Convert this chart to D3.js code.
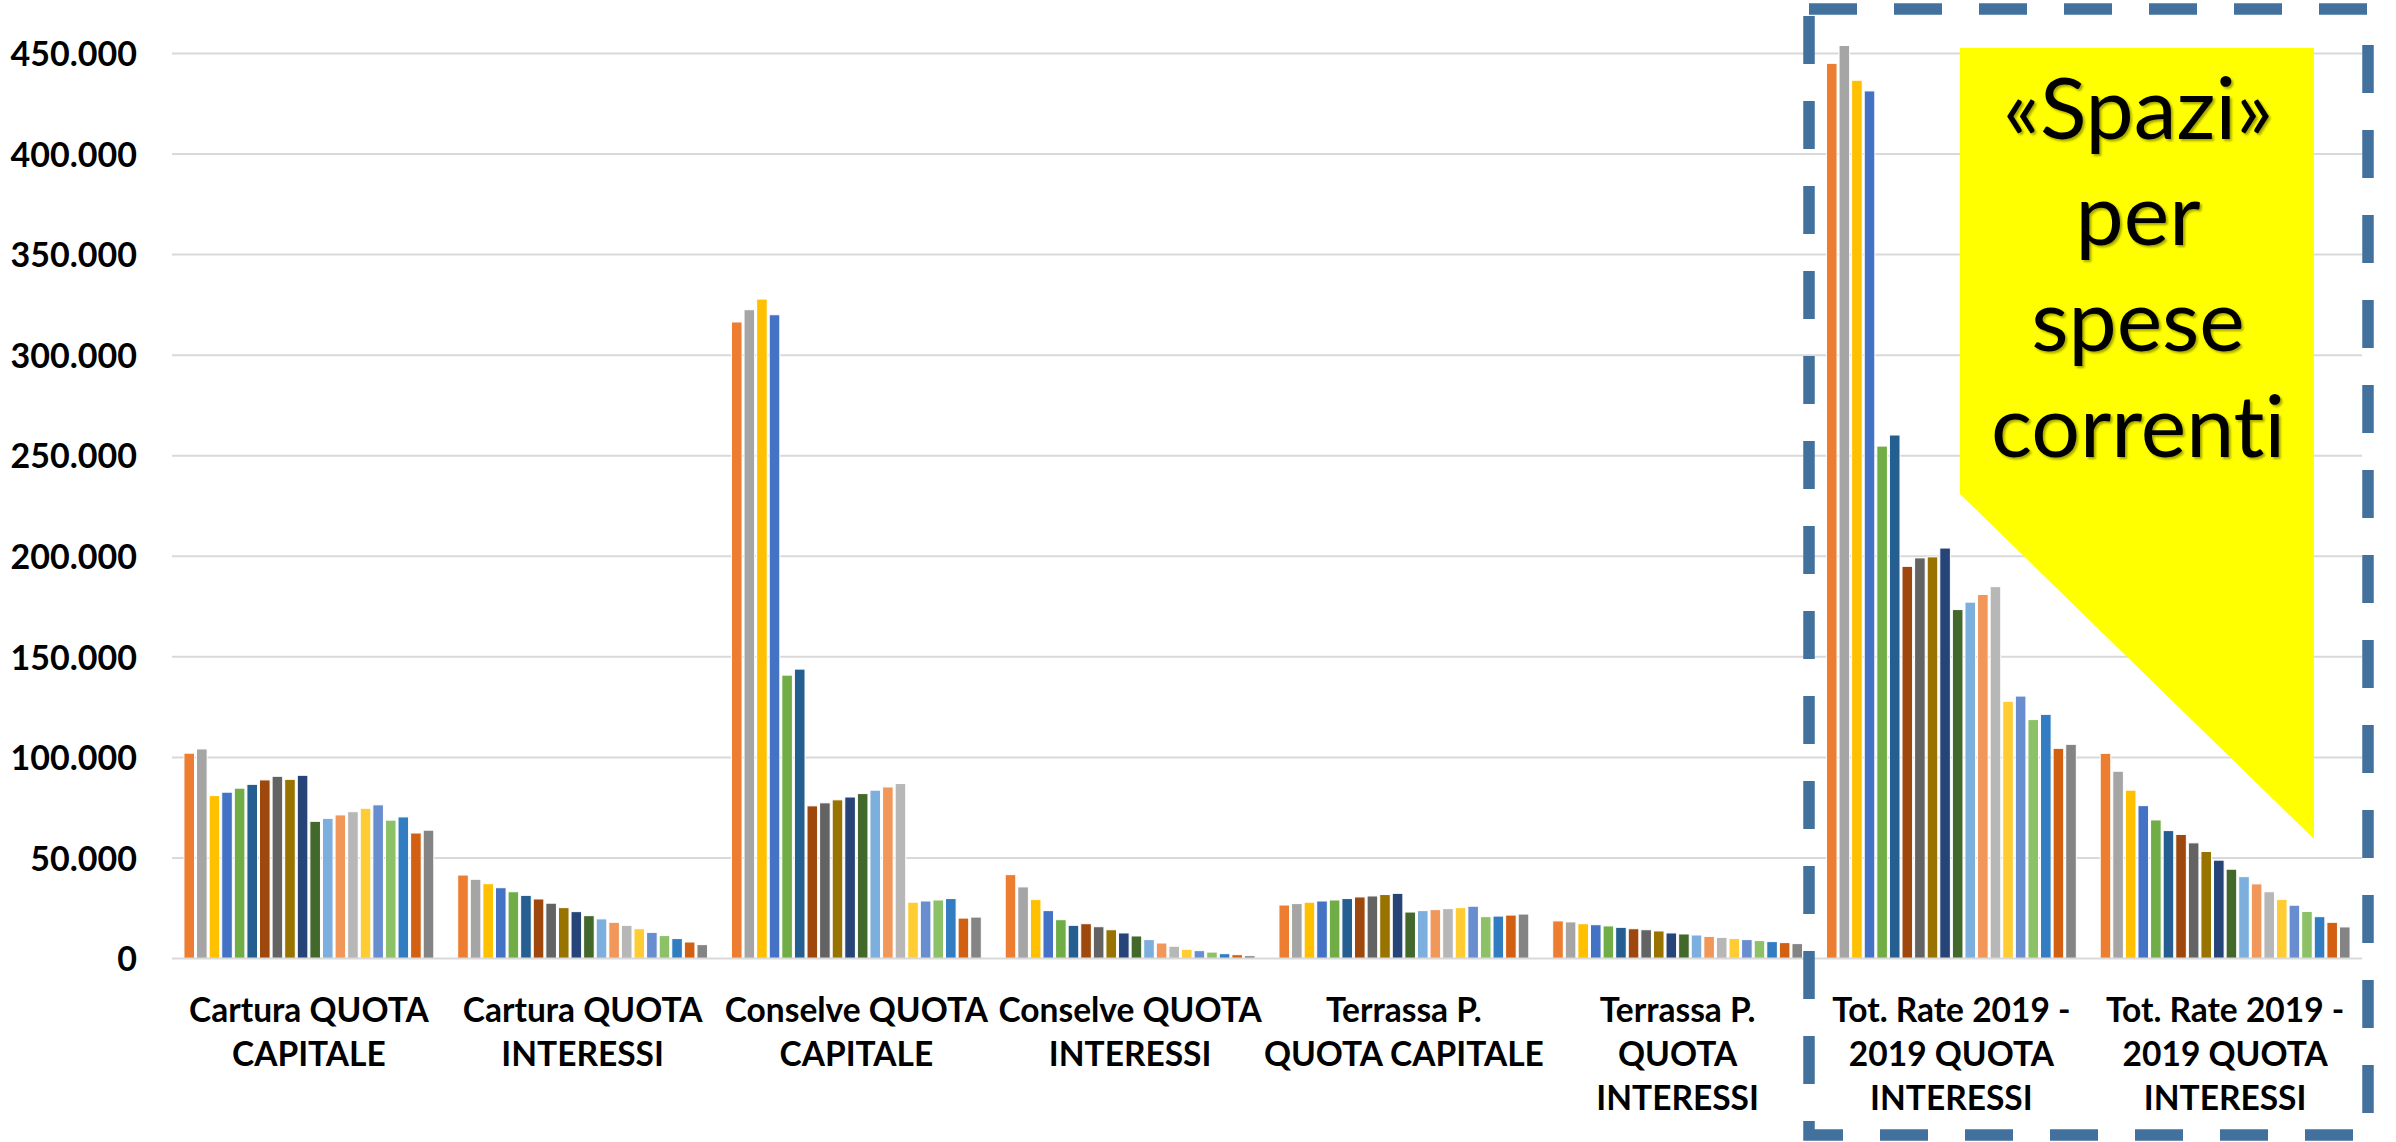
<!DOCTYPE html>
<html>
<head>
<meta charset="utf-8">
<script src="https://cdnjs.cloudflare.com/ajax/libs/d3/7.8.5/d3.min.js"></script>
<style>
  html, body { margin: 0; padding: 0; background: #ffffff; }
  svg { display: block; }
  text { font-variant-ligatures: none; font-feature-settings: "liga" 0, "clig" 0; }
</style>
</head>
<body>
<script>
// ---------------- DATA ----------------
const categories = [
  "Cartura QUOTA CAPITALE",
  "Cartura QUOTA INTERESSI",
  "Conselve QUOTA CAPITALE",
  "Conselve QUOTA INTERESSI",
  "Terrassa P. QUOTA CAPITALE",
  "Terrassa P. QUOTA INTERESSI",
  "Tot. Rate 2019 - 2019 QUOTA INTERESSI",
  "Tot. Rate 2019 - 2019 QUOTA INTERESSI"
];
const categoryLines = [
  ["Cartura QUOTA", "CAPITALE"],
  ["Cartura QUOTA", "INTERESSI"],
  ["Conselve QUOTA", "CAPITALE"],
  ["Conselve QUOTA", "INTERESSI"],
  ["Terrassa P.", "QUOTA CAPITALE"],
  ["Terrassa P.", "QUOTA", "INTERESSI"],
  ["Tot. Rate 2019 -", "2019 QUOTA", "INTERESSI"],
  ["Tot. Rate 2019 -", "2019 QUOTA", "INTERESSI"]
];
const seriesNames = [
  "Serie 1","Serie 2","Serie 3","Serie 4","Serie 5","Serie 6","Serie 7","Serie 8","Serie 9","Serie 10",
  "Serie 11","Serie 12","Serie 13","Serie 14","Serie 15","Serie 16","Serie 17","Serie 18","Serie 19","Serie 20"
];
const seriesColors = [
  "#ED7D31","#A5A5A5","#FFC000","#4472C4","#70AD47","#255E91","#9E480E","#636363","#997300","#264478",
  "#43682B","#7CAFDD","#F1975A","#B7B7B7","#FFCD33","#698ED0","#8CC168","#327DC2","#D26012","#848484"
];

const carturaCapitale   = [102100,104200,81000,82700,84700,86600,88800,90600,89100,91100,68200,69700,71400,73000,74700,76400,68800,70400,62400,63800];
const carturaInteressi  = [41500,39400,37200,35200,33200,31400,29600,27500,25300,23300,21300,19700,18000,16500,14800,13000,11400,9900,8200,6900];
const conselveCapitale  = [316500,322600,327900,320100,140900,143900,75900,77400,78900,80300,82000,83700,85300,87000,28000,28600,29100,29800,20100,20600];
const conselveInteressi = [41700,35600,29300,23800,19300,16500,17300,15800,14300,12700,11200,9400,7700,6100,4600,3900,3200,2400,1900,1400];
const terrassaCapitale  = [26600,27300,28000,28600,29100,29800,30600,31100,31800,32400,23100,23800,24300,24800,25300,26000,20800,21100,21600,22100];
const terrassaInteressi = [18700,18200,17300,16800,16200,15500,14800,14300,13700,12700,12200,11700,11000,10500,10000,9400,8900,8400,7900,7400];
const totCapitale       = [445100,454000,436700,431400,254800,260300,195000,199200,199700,204100,173500,177200,181000,184900,127900,130500,118800,121400,104500,106500];
const totInteressi      = [102000,93100,83700,76000,68900,63600,61700,57500,53200,48900,44400,40700,37100,33200,29400,26500,23400,20800,18000,15700];

const groupValues = [carturaCapitale, carturaInteressi, conselveCapitale, conselveInteressi,
                     terrassaCapitale, terrassaInteressi, totCapitale, totInteressi];

const yTicks = [0,50000,100000,150000,200000,250000,300000,350000,400000,450000];
const calloutLines = ["«Spazi»", "per", "spese", "correnti"];

// ---------------- LAYOUT ----------------
const W = 2396, H = 1142;
const plotLeft = 172, plotRight = 2362, yZero = 958.5, yTop = 53.5;

const svg = d3.select("body").append("svg")
  .attr("width", W).attr("height", H)
  .attr("viewBox", `0 0 ${W} ${H}`);

svg.append("rect").attr("width", W).attr("height", H).attr("fill", "#ffffff");

const defs = svg.append("defs");
const f = defs.append("filter").attr("id", "tshadow").attr("x", "-10%").attr("y", "-10%").attr("width", "130%").attr("height", "130%");
f.append("feDropShadow").attr("dx", 2).attr("dy", 2).attr("stdDeviation", 1)
  .attr("flood-color", "#000").attr("flood-opacity", 0.35);

const idx = d3.range(categories.length);
const x0 = d3.scaleBand().domain(idx).range([plotLeft, plotRight]).paddingInner(0.08).paddingOuter(0.04);
const x1 = d3.scaleBand().domain(seriesNames).range([0, x0.bandwidth()]).padding(0);
const y = d3.scaleLinear().domain([0, 450000]).range([yZero, yTop]);
const color = d3.scaleOrdinal().domain(seriesNames).range(seriesColors);

const fmt = d3.formatLocale({decimal: ",", thousands: ".", grouping: [3], currency: ["€", ""]}).format(",");

// gridlines
svg.append("g").selectAll("line").data(yTicks.filter(d => d > 0)).join("line")
  .attr("x1", plotLeft).attr("x2", plotRight)
  .attr("y1", d => y(d)).attr("y2", d => y(d))
  .attr("stroke", "#D9D9D9").attr("stroke-width", 2);

// y axis labels
const yAxis = d3.axisLeft(y).tickValues(yTicks).tickFormat(fmt).tickSize(0).tickPadding(0);
const yg = svg.append("g").attr("transform", `translate(137,0)`).call(yAxis);
yg.select(".domain").remove();
yg.selectAll("text")
  .attr("font-family", "Lato, 'Open Sans', sans-serif")
  .attr("font-weight", 700)
  .attr("font-size", 34)
  .attr("fill", "#000")
  .attr("dy", "0.36em");

// bars
const groups = svg.append("g").selectAll("g").data(idx).join("g")
  .attr("transform", i => `translate(${x0(i)},0)`);
groups.selectAll("rect")
  .data(i => groupValues[i].map((v, j) => ({key: seriesNames[j], value: v})))
  .join("rect")
  .attr("x", d => x1(d.key) + 1)
  .attr("width", x1.bandwidth() - 2)
  .attr("y", d => y(d.value))
  .attr("height", d => y(0) - y(d.value))
  .attr("fill", d => color(d.key))
  .attr("stroke", "#ffffff")
  .attr("stroke-width", 1);

// zero axis line
svg.append("line")
  .attr("x1", plotLeft).attr("x2", plotRight)
  .attr("y1", y(0)).attr("y2", y(0))
  .attr("stroke", "#D9D9D9").attr("stroke-width", 2);

// x axis labels
const xl = svg.append("g").selectAll("text").data(idx).join("text")
  .attr("x", i => x0(i) + x0.bandwidth() / 2)
  .attr("y", 1022)
  .attr("text-anchor", "middle")
  .attr("font-family", "Lato, 'Open Sans', sans-serif")
  .attr("font-weight", 700)
  .attr("font-size", 33.5)
  .attr("fill", "#000");
xl.selectAll("tspan").data(i => categoryLines[i].map(t => ({t, i}))).join("tspan")
  .attr("x", d => x0(d.i) + x0.bandwidth() / 2)
  .attr("dy", (d, k) => k === 0 ? 0 : 44)
  .text(d => d.t);

// dashed highlight box
svg.append("rect")
  .attr("x", 1809).attr("y", 9)
  .attr("width", 559).attr("height", 1126)
  .attr("fill", "none")
  .attr("stroke", "#41719C")
  .attr("stroke-width", 11.5)
  .attr("stroke-dasharray", "48 37");

// yellow callout
svg.append("path")
  .attr("d", "M1960,48 H2314 V839 L1960,494 Z")
  .attr("fill", "#FFFF00");

svg.append("g").selectAll("text").data(calloutLines).join("text")
  .attr("x", 2138)
  .attr("y", (d, k) => 138.5 + k * 106)
  .attr("text-anchor", "middle")
  .attr("font-family", "Lato, 'Open Sans', sans-serif")
  .attr("font-size", 86)
  .attr("fill", "#000")
  .attr("filter", "url(#tshadow)")
  .text(d => d);
</script>
</body>
</html>
